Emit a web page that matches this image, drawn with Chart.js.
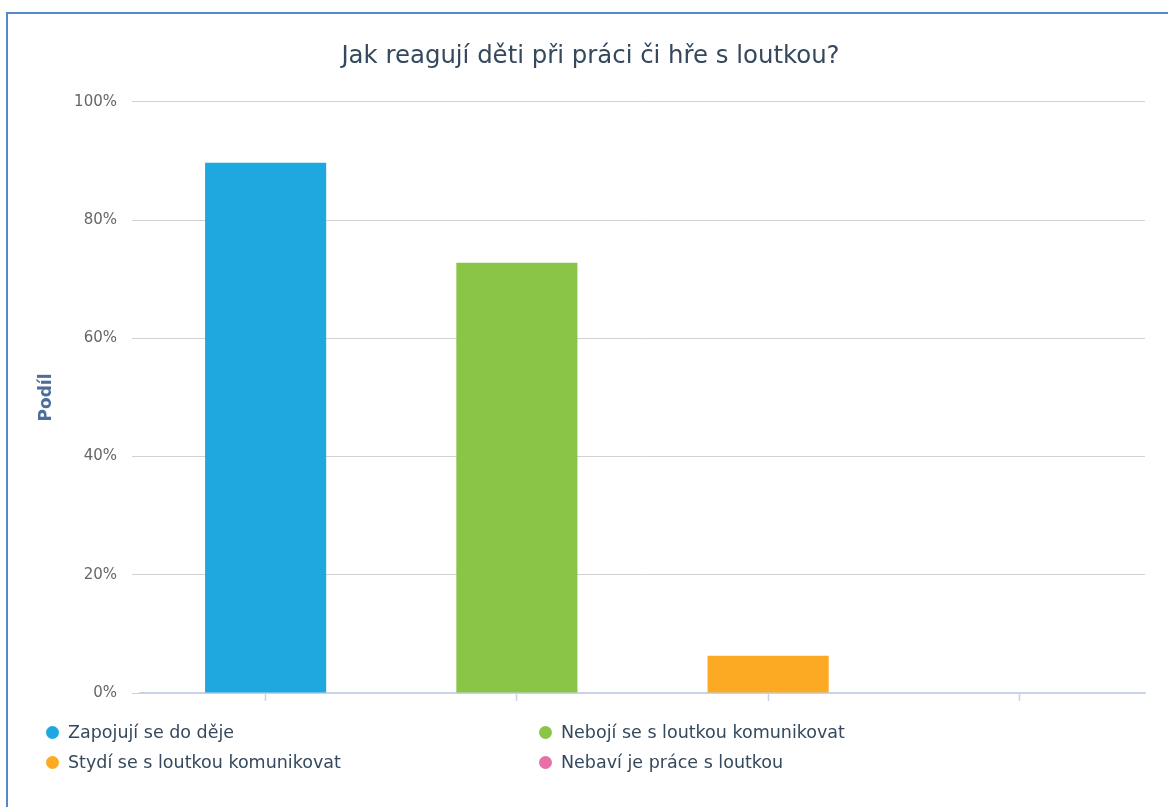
<!DOCTYPE html>
<html lang="cs">
<head>
<meta charset="utf-8">
<title>Jak reagují děti při práci či hře s loutkou?</title>
<script src="https://cdn.jsdelivr.net/npm/chart.js@4/dist/chart.umd.min.js"></script>
<style>
    html, body {
        margin: 0;
        padding: 0;
        background: #ffffff;
        overflow: hidden;
    }
    .frame {
        position: absolute;
        left: 6px;
        top: 12px;
        width: 1200px;
        height: 840px;
        border: 2px solid #5389c8;
        box-sizing: border-box;
    }
    .chart-box {
        position: absolute;
        left: 0;
        top: 0;
        width: 1168px;
        height: 807px;
    }
    .legend {
        position: absolute;
        left: 0;
        top: 717px;
        width: 1168px;
        font-family: "DejaVu Sans", sans-serif;
        font-size: 17.5px;
        color: #34495e;
    }
    .legend-item {
        position: absolute;
        height: 30px;
        line-height: 30px;
        white-space: nowrap;
    }
    .legend-item .dot {
        display: inline-block;
        width: 13px;
        height: 13px;
        border-radius: 50%;
        margin-right: 9px;
        vertical-align: -1px;
    }
</style>
</head>
<body>
<div class="frame"></div>
<div class="chart-box"><canvas id="reactionChart" width="1168" height="807"></canvas></div>
<div class="legend" id="chartLegend"></div>

<script>
// Chart data
const chartTitle = 'Jak reagují děti při práci či hře s loutkou?';
const axisTitle = 'Podíl';
const categories = [
    'Zapojují se do děje',
    'Nebojí se s loutkou komunikovat',
    'Stydí se s loutkou komunikovat',
    'Nebaví je práce s loutkou'
];
const shares = [89.7, 72.8, 6.3, 0];
const yTicks = [0, 20, 40, 60, 80, 100];

const barColors = ['#1fa8e0', '#8bc547', '#fca924', '#e96fa9'];

// Legend in two columns, order as in the picture
function buildLegend() {
    const legend = document.getElementById('chartLegend');
    const columns = [46, 539];
    categories.forEach((name, i) => {
        const item = document.createElement('div');
        item.className = 'legend-item';
        item.style.left = columns[i % 2] + 'px';
        item.style.top = (Math.floor(i / 2) * 30) + 'px';
        item.innerHTML = `<span class="dot" style="background:${barColors[i]}"></span>${name}`;
        legend.appendChild(item);
    });
}

function buildChart() {
    const ctx = document.getElementById('reactionChart');

    new Chart(ctx, {
        type: 'bar',
        data: {
            labels: categories,
            datasets: [{
                label: axisTitle,
                data: shares,
                backgroundColor: barColors,
                borderWidth: 0,
                barPercentage: 0.482,
                categoryPercentage: 1
            }]
        },
        options: {
            responsive: false,
            animation: false,
            layout: {
                padding: { top: 42, left: 36, right: 23, bottom: 106 }
            },
            plugins: {
                legend: { display: false },
                tooltip: { enabled: false },
                title: {
                    display: true,
                    text: chartTitle,
                    color: '#34495e',
                    font: { family: 'DejaVu Sans', size: 24.4, weight: 'normal', lineHeight: 1.2 },
                    padding: { top: 0, bottom: 30.7 }
                }
            },
            scales: {
                x: {
                    offset: true,
                    grid: {
                        offset: false,
                        drawOnChartArea: false,
                        drawTicks: true,
                        tickLength: 8,
                        tickWidth: 1.5,
                        tickColor: '#c6d3e8'
                    },
                    border: { display: true, color: '#c6d3e8', width: 1.5 },
                    ticks: { display: false }
                },
                y: {
                    min: 0,
                    max: 100,
                    afterBuildTicks: axis => {
                        axis.ticks = yTicks.map(v => ({ value: v }));
                    },
                    afterFit: axis => {
                        axis.width = 104;
                    },
                    grid: {
                        color: c => (c.tick && c.tick.value === 0 ? '#c6d3e8' : '#d2d2d2'),
                        drawTicks: true,
                        tickLength: 8,
                        tickColor: c => (c.tick && c.tick.value === 0 ? '#c6d3e8' : '#d2d2d2')
                    },
                    border: { display: false },
                    ticks: {
                        padding: 15,
                        color: '#666666',
                        font: { family: 'DejaVu Sans', size: 15 },
                        callback: value => value + '%'
                    },
                    title: {
                        display: true,
                        text: axisTitle,
                        color: '#4a6d9c',
                        font: { family: 'DejaVu Sans', size: 17, weight: 'bold', lineHeight: 1.2 },
                        padding: 0
                    }
                }
            }
        }
    });
}

document.addEventListener('DOMContentLoaded', () => {
    buildChart();
    buildLegend();
});
</script>
</body>
</html>
